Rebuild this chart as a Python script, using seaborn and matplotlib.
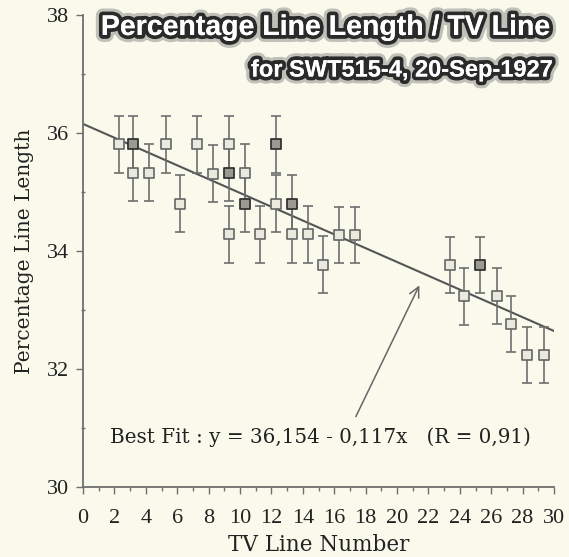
import matplotlib
matplotlib.use("Agg")
import matplotlib.pyplot as plt
import matplotlib.patheffects as pe
import seaborn as sns
import pandas as pd
import numpy as np

# ---- data ----
tv_line = [2.3, 3.2, 3.2, 4.2, 5.3, 6.2, 7.25, 8.3, 9.3, 9.3, 9.3, 10.3, 10.3,
           11.3, 12.3, 12.3, 13.3, 13.3, 14.3, 15.3, 16.3, 17.35,
           23.4, 24.25, 25.3, 26.35, 27.25, 28.3, 29.35]
pct_length = [35.81, 35.81, 35.33, 35.33, 35.81, 34.80, 35.81, 35.31, 35.81, 35.33, 34.28, 35.33, 34.80,
              34.28, 35.81, 34.80, 34.80, 34.28, 34.28, 33.77, 34.27, 34.27,
              33.76, 33.23, 33.76, 33.24, 32.76, 32.24, 32.24]
err = [0.48] * len(tv_line)
dark = [False, True, False, False, False, False, False, False, False, True, False, False, True,
        False, True, False, True, False, False, False, False, False,
        False, False, True, False, False, False, False]
fit_intercept = 36.154
fit_slope = -0.117
fit_x = [0, 30]
x_ticks = list(range(0, 31, 2))
y_ticks = [30, 32, 34, 36, 38]

title = "Percentage Line Length / TV Line"
subtitle = "for SWT515-4, 20-Sep-1927"
fit_label = "Best Fit : y = 36,154 - 0,117x   (R = 0,91)"

df = pd.DataFrame({"x": tv_line, "y": pct_length, "err": err, "dark": dark})
fit_df = pd.DataFrame({"x": fit_x, "y": [fit_intercept + fit_slope * v for v in fit_x]})

sns.set_theme(style="white")
bg = "#fafaec"
plt.rcParams["font.family"] = ["Liberation Serif", "DejaVu Serif"]

fig = plt.figure(figsize=(5.69, 5.57), dpi=100, facecolor=bg)
ax = fig.add_axes([83 / 569, 1 - 487 / 557, (554 - 83) / 569, (487 - 15) / 557])
ax.set_facecolor(bg)

grey = "#6e6e6e"
# regression line
sns.lineplot(data=fit_df, x="x", y="y", ax=ax, color="#555555", linewidth=1.5, zorder=2)

# error bars
ax.errorbar(df["x"], df["y"], yerr=df["err"], fmt="none", ecolor=grey,
            elinewidth=1.2, capsize=3.8, capthick=1.2, zorder=3)

# markers
sns.scatterplot(data=df[~df["dark"]], x="x", y="y", ax=ax, marker="s", s=48,
                facecolor="#e9e9dd", edgecolor="#666666", linewidth=1.2, zorder=4)
sns.scatterplot(data=df[df["dark"]], x="x", y="y", ax=ax, marker="s", s=48,
                facecolor="#9a9a90", edgecolor="#333333", linewidth=1.3, zorder=4)

ax.set_xlim(0, 30)
ax.set_ylim(30, 38)
ax.set_xticks(x_ticks)
ax.set_yticks(y_ticks)
ax.set_xticks(range(0, 31), minor=True)
ax.set_yticks([31, 33, 35, 37], minor=True)
ax.tick_params(axis="both", which="major", direction="out", length=5, width=1,
               color=grey, labelsize=16, labelcolor="#222222")
ax.tick_params(axis="x", which="major", pad=11, bottom=True)
ax.tick_params(axis="y", which="major", pad=5, left=True)
ax.tick_params(axis="x", which="minor", direction="out", length=3, width=1, color=grey, bottom=True)
ax.tick_params(axis="y", which="minor", direction="inout", length=3, width=1, color=grey, left=True)

for s in ["top", "right"]:
    ax.spines[s].set_visible(False)
for s in ["left", "bottom"]:
    ax.spines[s].set_color(grey)
    ax.spines[s].set_linewidth(1.3)

ax.set_xlabel("TV Line Number", fontsize=15.5, color="#222222", labelpad=4,
              family=["DejaVu Serif"])
ax.set_ylabel("Percentage Line Length", fontsize=14.5, color="#222222", labelpad=9,
              family=["DejaVu Serif"])

# fit annotation
ax.annotate("", xy=(21.5, 33.46), xytext=(17.3, 31.15),
            arrowprops=dict(arrowstyle="->", color="#666666", lw=1.1,
                            mutation_scale=18))
ax.text(1.72, 30.75, fit_label, fontsize=14.3, color="#222222", ha="left", va="baseline",
        family=["DejaVu Serif"])

# titles with dark glow
glow = [pe.withStroke(linewidth=10, foreground="#888888", alpha=0.5),
        pe.withStroke(linewidth=5.5, foreground="#2a2a2a"), pe.Normal()]
fig.text(550 / 569, 1 - 28 / 557, title, ha="right", va="center", fontsize=20.5,
         fontweight="bold", color="white", family=["Liberation Sans"], path_effects=glow)
fig.text(553 / 569, 1 - 70 / 557, subtitle, ha="right", va="center", fontsize=17,
         fontweight="bold", color="white", family=["Liberation Sans"], path_effects=glow)

fig.savefig("out.png", dpi=100, facecolor=bg)
